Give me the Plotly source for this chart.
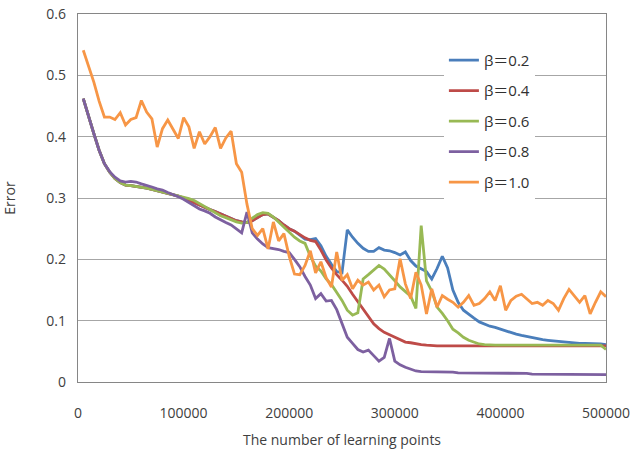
import plotly.graph_objects as go

x_points = [5000 * i for i in range(1, 101)]

beta_02 = [0.462, 0.432, 0.405, 0.378, 0.356, 0.342, 0.332, 0.325, 0.321, 0.320,
           0.319, 0.318, 0.316, 0.314, 0.312, 0.310, 0.308, 0.306, 0.303, 0.300,
           0.296, 0.293, 0.288, 0.284, 0.281, 0.278, 0.274, 0.270, 0.267, 0.263,
           0.261, 0.260, 0.263, 0.268, 0.273, 0.274, 0.269, 0.263, 0.256, 0.250,
           0.246, 0.240, 0.233, 0.232, 0.234, 0.222, 0.205, 0.192, 0.180, 0.178,
           0.248, 0.236, 0.226, 0.218, 0.213, 0.213, 0.219, 0.215, 0.214, 0.211,
           0.207, 0.212, 0.198, 0.189, 0.185, 0.180, 0.168, 0.185, 0.205, 0.186,
           0.150, 0.130, 0.117, 0.110, 0.104, 0.098, 0.094, 0.091, 0.089, 0.086,
           0.083, 0.080, 0.078, 0.076, 0.074, 0.072, 0.071, 0.069, 0.068, 0.067,
           0.066, 0.065, 0.064, 0.064, 0.063, 0.063, 0.063, 0.062, 0.062, 0.061]

beta_04 = [0.462, 0.432, 0.405, 0.378, 0.356, 0.342, 0.332, 0.325, 0.321, 0.320,
           0.319, 0.318, 0.316, 0.314, 0.312, 0.310, 0.308, 0.306, 0.303, 0.300,
           0.296, 0.293, 0.288, 0.284, 0.281, 0.278, 0.274, 0.270, 0.267, 0.263,
           0.261, 0.260, 0.263, 0.268, 0.273, 0.274, 0.269, 0.263, 0.256, 0.250,
           0.246, 0.240, 0.235, 0.231, 0.229, 0.215, 0.199, 0.186, 0.175, 0.166,
           0.156, 0.143, 0.131, 0.118, 0.105, 0.095, 0.087, 0.081, 0.077, 0.073,
           0.069, 0.065, 0.064, 0.062, 0.061, 0.060, 0.059, 0.059, 0.059, 0.059,
           0.059, 0.059, 0.059, 0.059, 0.059, 0.059, 0.059, 0.059, 0.059, 0.059,
           0.059, 0.059, 0.059, 0.059, 0.059, 0.059, 0.059, 0.059, 0.059, 0.059,
           0.059, 0.059, 0.059, 0.059, 0.059, 0.059, 0.059, 0.059, 0.059, 0.059]

beta_06 = [0.462, 0.432, 0.405, 0.378, 0.356, 0.342, 0.332, 0.325, 0.321, 0.320,
           0.319, 0.318, 0.316, 0.314, 0.312, 0.310, 0.308, 0.305, 0.303, 0.301,
           0.299, 0.296, 0.291, 0.286, 0.280, 0.275, 0.271, 0.268, 0.264, 0.261,
           0.259, 0.260, 0.267, 0.273, 0.276, 0.275, 0.269, 0.261, 0.252, 0.244,
           0.236, 0.230, 0.226, 0.205, 0.189, 0.181, 0.168, 0.159, 0.147, 0.133,
           0.117, 0.109, 0.113, 0.168, 0.175, 0.182, 0.190, 0.184, 0.175, 0.165,
           0.155, 0.148, 0.140, 0.120, 0.255, 0.165, 0.148, 0.122, 0.112, 0.100,
           0.086, 0.080, 0.073, 0.068, 0.065, 0.062, 0.061, 0.060, 0.060, 0.060,
           0.060, 0.060, 0.060, 0.060, 0.060, 0.060, 0.060, 0.060, 0.060, 0.060,
           0.060, 0.060, 0.060, 0.060, 0.060, 0.060, 0.060, 0.060, 0.060, 0.053]

beta_08 = [0.462, 0.432, 0.405, 0.378, 0.356, 0.343, 0.334, 0.328, 0.326, 0.327,
           0.326, 0.323, 0.321, 0.318, 0.315, 0.313, 0.309, 0.306, 0.302, 0.298,
           0.293, 0.288, 0.282, 0.279, 0.275, 0.269, 0.264, 0.260, 0.256, 0.250,
           0.243, 0.277, 0.243, 0.233, 0.225, 0.219, 0.218, 0.216, 0.213, 0.211,
           0.200, 0.188, 0.172, 0.158, 0.136, 0.144, 0.132, 0.133, 0.118, 0.095,
           0.073, 0.063, 0.053, 0.049, 0.052, 0.043, 0.034, 0.040, 0.071, 0.034,
           0.028, 0.024, 0.021, 0.018, 0.017, 0.017, 0.016, 0.016, 0.016, 0.016,
           0.016, 0.015, 0.015, 0.015, 0.014, 0.014, 0.014, 0.014, 0.014, 0.014,
           0.014, 0.014, 0.014, 0.014, 0.014, 0.013, 0.013, 0.013, 0.012, 0.012,
           0.012, 0.012, 0.012, 0.012, 0.012, 0.012, 0.012, 0.012, 0.012, 0.012]

beta_10 = [0.541, 0.515, 0.489, 0.458, 0.432, 0.432, 0.428, 0.439, 0.419, 0.428,
           0.431, 0.459, 0.440, 0.429, 0.383, 0.413, 0.427, 0.412, 0.397, 0.431,
           0.416, 0.381, 0.408, 0.388, 0.400, 0.415, 0.381, 0.398, 0.409, 0.356,
           0.342, 0.290, 0.250, 0.239, 0.250, 0.217, 0.261, 0.230, 0.242, 0.205,
           0.176, 0.175, 0.190, 0.214, 0.178, 0.196, 0.170, 0.155, 0.212, 0.166,
           0.175, 0.152, 0.166, 0.158, 0.163, 0.150, 0.158, 0.139, 0.150, 0.152,
           0.201, 0.160, 0.136, 0.179, 0.158, 0.111, 0.152, 0.122, 0.141, 0.135,
           0.130, 0.122, 0.130, 0.141, 0.125, 0.128, 0.136, 0.147, 0.133, 0.157,
           0.117, 0.133, 0.140, 0.143, 0.135, 0.128, 0.130, 0.125, 0.133, 0.128,
           0.117, 0.136, 0.151, 0.141, 0.130, 0.141, 0.111, 0.130, 0.147, 0.139]

series_names = ["β＝0.2", "β＝0.4", "β＝0.6", "β＝0.8", "β＝1.0"]
series_values = [beta_02, beta_04, beta_06, beta_08, beta_10]
series_colors = ["#4A7EBB", "#BE4B48", "#98B954", "#7D60A0", "#F79646"]

y_ticks = [0, 0.1, 0.2, 0.3, 0.4, 0.5, 0.6]
x_ticks = [0, 100000, 200000, 300000, 400000, 500000]

FONT = "Open Sans, Noto Sans CJK JP, sans-serif"

fig = go.Figure()
for i, (name, vals, col) in enumerate(zip(series_names, series_values, series_colors)):
    fig.add_trace(go.Scatter(
        x=x_points, y=vals, mode="lines", name=name,
        legendgroup=f"g{i}",
        line=dict(color=col, width=2.8),
    ))

fig.update_layout(
    width=634, height=453,
    margin=dict(l=78, r=28, t=14, b=71, autoexpand=False),
    paper_bgcolor="white", plot_bgcolor="white",
    font=dict(family=FONT, size=14, color="#404040"),
    showlegend=True,
    legend=dict(
        x=0.693, y=0.919, xanchor="left", yanchor="top",
        bgcolor="white", borderwidth=0,
        tracegroupgap=8,
        font=dict(family=FONT, size=15, color="#303030"),
    ),
    xaxis=dict(
        range=[0, 500000], tickvals=x_ticks, tickformat="d",
        showgrid=False, zeroline=False, automargin=False,
        showline=True, linecolor="#868686", linewidth=1.3, mirror=True,
        ticks="", ticklabelstandoff=18, ticklabeloverflow="allow",
        title=dict(text="The number of learning points", standoff=14,
                   font=dict(family=FONT, size=14, color="#404040")),
    ),
    yaxis=dict(
        range=[0, 0.6], tickvals=y_ticks,
        showgrid=True, gridcolor="#A6A6A6", gridwidth=1.2,
        zeroline=False, automargin=False,
        showline=True, linecolor="#868686", linewidth=1.3, mirror=True,
        ticks="", ticklabelstandoff=8, ticklabeloverflow="allow",
        title=dict(text="Error", standoff=28,
                   font=dict(family=FONT, size=14, color="#404040")),
    ),
)

fig.write_html("out.html", config={"displayModeBar": False},
               post_script="document.body.style.margin='0';")
